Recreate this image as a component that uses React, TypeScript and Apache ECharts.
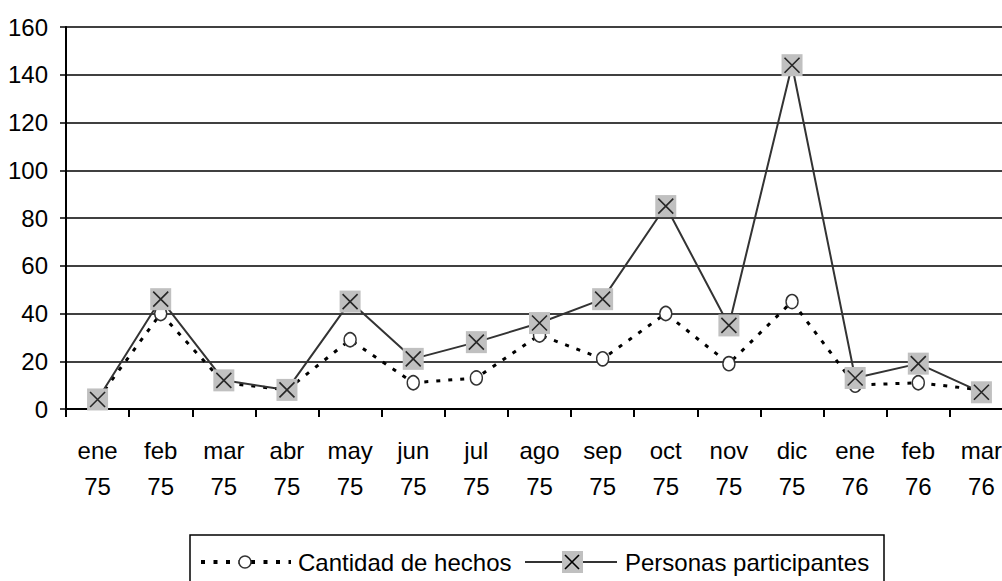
import React, { useEffect, useRef } from "react";
import * as echarts from "echarts";

const months = ["ene", "feb", "mar", "abr", "may", "jun", "jul", "ago", "sep", "oct", "nov", "dic", "ene", "feb", "mar"];
const years = ["75", "75", "75", "75", "75", "75", "75", "75", "75", "75", "75", "75", "76", "76", "76"];
const cantidadHechos = [4, 40, 11, 8, 29, 11, 13, 31, 21, 40, 19, 45, 10, 11, 8];
const personasParticipantes = [4, 46, 12, 8, 45, 21, 28, 36, 46, 85, 35, 144, 13, 19, 7];
const yTicks = { min: 0, max: 160, interval: 20 };
const seriesNames = ["Cantidad de hechos", "Personas participantes"];

const FONT = "'Liberation Sans', Arial, sans-serif";

export default function App() {
  const ref = useRef<HTMLDivElement>(null);
  useEffect(() => {
    if (!ref.current) return;
    const chart = echarts.init(ref.current, null, { renderer: "svg" });
    const categories = months.map((m, i) => m + "\n" + years[i]);
    const legendY = 562;
    chart.setOption({
      animation: false,
      backgroundColor: "#fff",
      textStyle: { fontFamily: FONT },
      grid: { left: 66, right: 0, top: 27, bottom: 172 },
      xAxis: {
        type: "category",
        data: categories,
        boundaryGap: true,
        axisLine: { show: true, lineStyle: { color: "#000", width: 2 } },
        axisTick: { show: true, interval: 0, length: 8, lineStyle: { color: "#000", width: 2 } },
        axisLabel: {
          interval: 0,
          margin: 23,
          color: "#000",
          fontSize: 24,
          lineHeight: 36,
          fontFamily: FONT,
        },
        splitLine: { show: false },
      },
      yAxis: {
        type: "value",
        min: yTicks.min,
        max: yTicks.max,
        interval: yTicks.interval,
        axisLine: { show: true, lineStyle: { color: "#000", width: 2 } },
        axisTick: { show: true, length: 6, lineStyle: { color: "#000", width: 1.5 } },
        axisLabel: { margin: 18, color: "#000", fontSize: 24, fontFamily: FONT },
        splitLine: { show: true, lineStyle: { color: "#000", width: 1.5 } },
      },
      series: [
        {
          name: seriesNames[0],
          type: "line",
          data: cantidadHechos,
          showAllSymbol: true,
          symbol: "circle",
          symbolSize: [12, 14],
          lineStyle: { color: "#000", width: 3, type: [4, 8] },
          itemStyle: { color: "#fff", borderColor: "#333", borderWidth: 1.5 },
          z: 2,
        },
        {
          name: seriesNames[1],
          type: "line",
          data: personasParticipantes,
          showAllSymbol: true,
          symbol: "rect",
          symbolSize: [21, 22],
          lineStyle: { color: "#333", width: 2 },
          itemStyle: { color: "#c0c0c0", borderWidth: 0 },
          z: 3,
        },
        {
          name: seriesNames[1] + " marca",
          type: "scatter",
          data: personasParticipantes,
          symbol: "path://M0,0L10,10M0,10L10,0",
          symbolSize: 15,
          itemStyle: { color: "none", borderColor: "#000", borderWidth: 1.6 },
          z: 4,
          silent: true,
        },
      ],
      graphic: [
        {
          type: "rect",
          shape: { x: 190, y: 535, width: 694, height: 70 },
          style: { fill: "#fff", stroke: "#000", lineWidth: 1.5 },
        },
        {
          type: "line",
          shape: { x1: 201, y1: legendY, x2: 291, y2: legendY },
          style: { stroke: "#000", lineWidth: 4, lineDash: [4, 8.5] },
        },
        {
          type: "ellipse",
          shape: { cx: 245, cy: legendY, rx: 6, ry: 6 },
          style: { fill: "#fff", stroke: "#333", lineWidth: 1.5 },
        },
        {
          type: "text",
          x: 298,
          y: legendY,
          style: {
            text: seriesNames[0],
            fontSize: 24,
            fontFamily: FONT,
            fill: "#000",
            verticalAlign: "middle",
            align: "left",
          },
        },
        {
          type: "line",
          shape: { x1: 525, y1: legendY, x2: 617, y2: legendY },
          style: { stroke: "#333", lineWidth: 2 },
        },
        {
          type: "rect",
          shape: { x: 562, y: legendY - 11, width: 21, height: 22 },
          style: { fill: "#c0c0c0" },
        },
        {
          type: "line",
          shape: { x1: 565, y1: legendY - 7, x2: 579, y2: legendY + 7 },
          style: { stroke: "#000", lineWidth: 1.6 },
        },
        {
          type: "line",
          shape: { x1: 565, y1: legendY + 7, x2: 579, y2: legendY - 7 },
          style: { stroke: "#000", lineWidth: 1.6 },
        },
        {
          type: "text",
          x: 625,
          y: legendY,
          style: {
            text: seriesNames[1],
            fontSize: 24,
            fontFamily: FONT,
            fill: "#000",
            verticalAlign: "middle",
            align: "left",
          },
        },
      ],
    });
    return () => chart.dispose();
  }, []);
  return (
    <div style={{ position: "absolute", left: 0, top: 0, width: 1002, height: 581, overflow: "hidden", background: "#fff" }}>
      <div ref={ref} style={{ width: 1013, height: 581 }} />
    </div>
  );
}
